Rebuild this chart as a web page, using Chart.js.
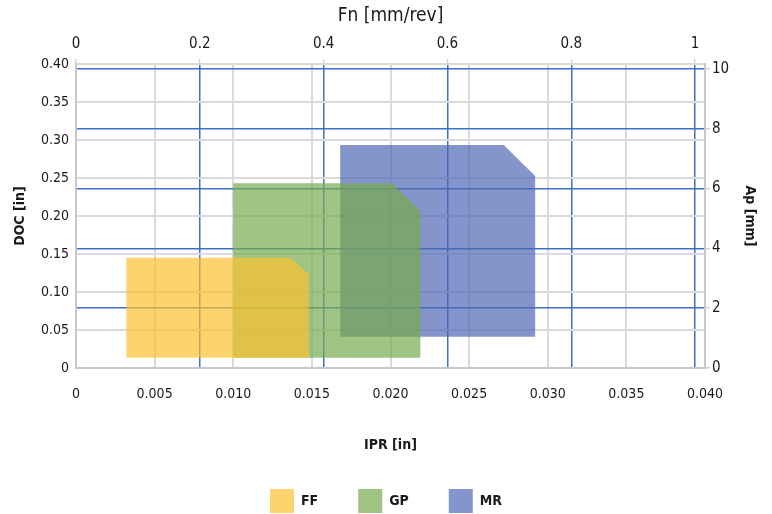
<!DOCTYPE html>
<html>
<head>
<meta charset="utf-8">
<script src="https://cdn.jsdelivr.net/npm/chart.js@4"></script>
<style>
  html, body { margin: 0; padding: 0; background: #ffffff; }
  #wrap { width: 772px; height: 514px; }
</style>
</head>
<body>
<div id="wrap"><canvas id="c" width="772" height="514"></canvas></div>
<script>
// ---- data (inches) ----
const seriesNames = ['FF', 'GP', 'MR'];
const ffIPR = [0.0032, 0.0032, 0.0136, 0.0148, 0.0148];
const ffDOC = [0.0135, 0.1451, 0.1451, 0.1233, 0.0135];
const gpIPR = [0.0100, 0.0100, 0.0201, 0.0219, 0.0219];
const gpDOC = [0.0135, 0.2430, 0.2430, 0.2066, 0.0135];
const mrIPR = [0.0168, 0.0168, 0.0272, 0.0292, 0.0292];
const mrDOC = [0.0412, 0.2934, 0.2934, 0.2526, 0.0412];

// ---- tick labels ----
const iprTicks = [0, 0.005, 0.010, 0.015, 0.020, 0.025, 0.030, 0.035, 0.040];
const iprLabels = ['0', '0.005', '0.010', '0.015', '0.020', '0.025', '0.030', '0.035', '0.040'];
const docTicks = [0, 0.05, 0.10, 0.15, 0.20, 0.25, 0.30, 0.35, 0.40];
const docLabels = ['0', '0.05', '0.10', '0.15', '0.20', '0.25', '0.30', '0.35', '0.40'];
const fnTicks = [0, 0.2, 0.4, 0.6, 0.8, 1];
const fnLabels = ['0', '0.2', '0.4', '0.6', '0.8', '1'];
const apTicks = [0, 2, 4, 6, 8, 10];
const apLabels = ['0', '2', '4', '6', '8', '10'];

const fillColors = ['rgba(252,192,48,0.7)', 'rgba(119,171,79,0.7)', 'rgba(78,104,179,0.7)'];

const FONT = "'DejaVu Sans Condensed', 'DejaVu Sans', sans-serif";
const TXT = '#1a1a1a';
const GRAY = '#DADADA';
const BLUE = '#3F6FC2';

function pts(xs, ys) { return xs.map((x, i) => ({ x: x, y: ys[i] })); }
function setTicks(values) { return function (scale) { scale.ticks = values.map(v => ({ value: v })); }; }
function labelsFrom(arr) { return function (v, i) { return arr[i]; }; }

const shapes = [pts(ffIPR, ffDOC), pts(gpIPR, gpDOC), pts(mrIPR, mrDOC)];

const datasets = seriesNames.map((name, i) => ({
  label: name,
  data: shapes[i],
  showLine: true,
  fill: 'shape',
  backgroundColor: fillColors[i],
  borderColor: fillColors[i],
  borderWidth: 0,
  pointRadius: 0,
  pointHoverRadius: 0,
  tension: 0,
  xAxisID: 'x',
  yAxisID: 'y'
}));

new Chart(document.getElementById('c'), {
  type: 'scatter',
  data: { datasets: datasets },
  options: {
    responsive: false,
    animation: false,
    devicePixelRatio: 1,
    layout: { padding: 0 },
    plugins: {
      tooltip: { enabled: false },
      legend: {
        display: true,
        position: 'bottom',
        maxHeight: 65,
        labels: {
          boxWidth: 24,
          boxHeight: 24,
          padding: 40,
          color: TXT,
          font: { family: FONT, size: 14, weight: 'bold' }
        }
      }
    },
    scales: {
      x: {
        type: 'linear',
        position: 'bottom',
        min: 0, max: 0.04,
        afterBuildTicks: setTicks(iprTicks),
        afterFit: function (s) { s.height = 81; },
        ticks: { callback: labelsFrom(iprLabels), color: TXT, padding: 18, maxRotation: 0, autoSkip: false,
                 font: { family: FONT, size: 14 } },
        grid: { color: GRAY, lineWidth: 2, drawTicks: false },
        border: { color: '#C8C8C8', width: 2 },
        title: { display: true, text: 'IPR [in]', color: TXT, padding: { top: 0, bottom: -4.4 },
                 font: { family: FONT, size: 14, weight: 'bold' } }
      },
      x2: {
        type: 'linear',
        position: 'top',
        min: 0, max: 1.016,
        afterBuildTicks: setTicks(fnTicks),
        afterFit: function (s) { s.height = 64; },
        ticks: { callback: labelsFrom(fnLabels), color: TXT, padding: 6, maxRotation: 0, autoSkip: false,
                 font: { family: FONT, size: 15 } },
        grid: { color: BLUE, lineWidth: 1.5, drawTicks: true, tickLength: 5, tickColor: '#BFBFBF', tickWidth: 1 },
        border: { display: false },
        title: { display: true, text: 'Fn [mm/rev]', color: TXT, padding: { top: 5, bottom: 0 },
                 font: { family: FONT, size: 19 } }
      },
      y: {
        type: 'linear',
        position: 'left',
        min: 0, max: 0.40,
        afterBuildTicks: setTicks(docTicks),
        afterFit: function (s) { s.width = 76; },
        ticks: { callback: labelsFrom(docLabels), color: TXT, padding: 7, autoSkip: false,
                 font: { family: FONT, size: 14 } },
        grid: { color: GRAY, lineWidth: 2, drawTicks: false },
        border: { color: '#C8C8C8', width: 2 },
        title: { display: true, text: 'DOC [in]', color: TXT, padding: { top: 11.6, bottom: 0 },
                 font: { family: FONT, size: 14, weight: 'bold' } }
      },
      y2: {
        type: 'linear',
        position: 'right',
        min: 0, max: 10.16,
        afterBuildTicks: setTicks(apTicks),
        afterFit: function (s) { s.width = 67; },
        ticks: { callback: labelsFrom(apLabels), color: TXT, padding: 2, autoSkip: false,
                 font: { family: FONT, size: 15 } },
        grid: { color: BLUE, lineWidth: 1.5, drawTicks: true, tickLength: 5, tickColor: '#BFBFBF', tickWidth: 1 },
        border: { color: '#C8C8C8', width: 2 },
        title: { display: true, text: 'Ap [mm]', color: TXT, padding: { top: 13.6, bottom: 0 },
                 font: { family: FONT, size: 14, weight: 'bold' } }
      }
    }
  }
});
</script>
</body>
</html>
